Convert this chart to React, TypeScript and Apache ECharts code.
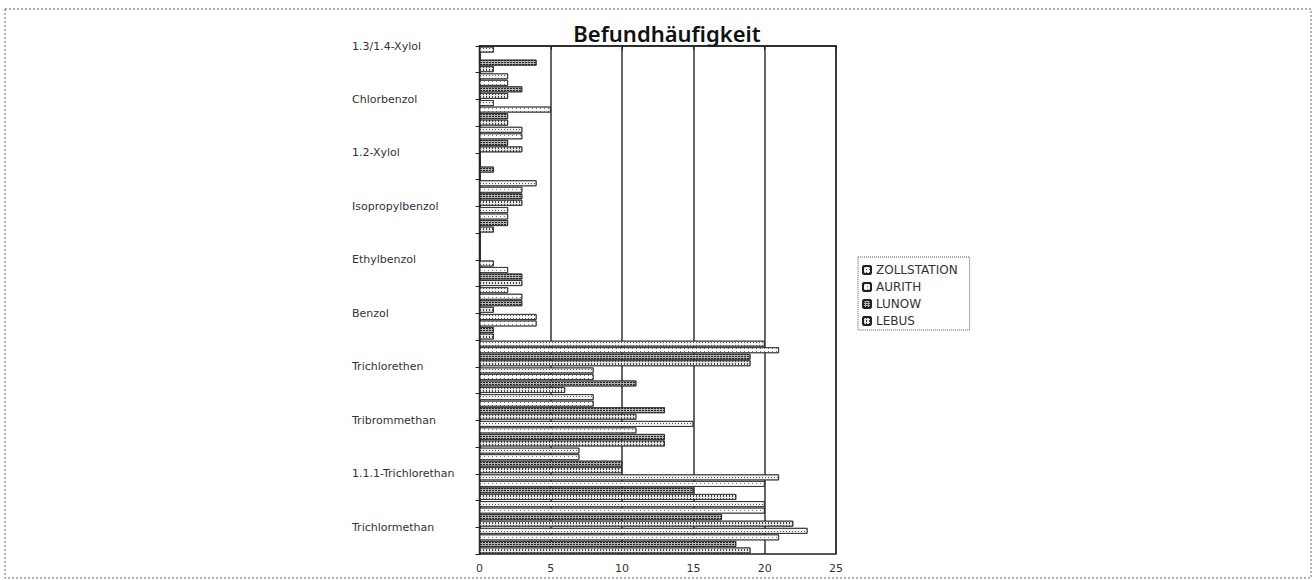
import React, { useEffect, useRef } from 'react';
import * as echarts from 'echarts';

// Substance names (shown at every second row boundary)
const substances = [
  '1.3/1.4-Xylol',
  'Chlorbenzol',
  '1.2-Xylol',
  'Isopropylbenzol',
  'Ethylbenzol',
  'Benzol',
  'Trichlorethen',
  'Tribrommethan',
  '1.1.1-Trichlorethan',
  'Trichlormethan',
];

// 19 bar rows, top to bottom
const rowIds = [
  'r01', 'r02', 'r03', 'r04', 'r05', 'r06', 'r07', 'r08', 'r09', 'r10',
  'r11', 'r12', 'r13', 'r14', 'r15', 'r16', 'r17', 'r18', 'r19',
];

const stations = ['ZOLLSTATION', 'AURITH', 'LUNOW', 'LEBUS'];

const zollstation = [1, 2, 1, 3, 0, 4, 2, 0, 1, 2, 4, 20, 8, 8, 15, 7, 21, 20, 23];
const aurith = [0, 2, 5, 3, 0, 3, 2, 0, 2, 3, 4, 21, 8, 8, 11, 7, 20, 20, 21];
const lunow = [4, 3, 2, 2, 1, 3, 2, 0, 3, 3, 1, 19, 11, 13, 13, 10, 15, 17, 18];
const lebus = [1, 2, 2, 3, 0, 3, 1, 0, 3, 1, 1, 19, 6, 11, 13, 10, 18, 22, 19];

const xMin = 0;
const xMax = 25;
const xInterval = 5;

const FONT = 'DejaVu Sans';

export default function App() {
  const ref = useRef<HTMLDivElement>(null);

  useEffect(() => {
    if (!ref.current) return;
    const chart = echarts.init(ref.current, null, { renderer: 'svg' });

    const seriesData = [zollstation, aurith, lunow, lebus];
    const styles = [
      { color: '#f2f2f2', decal: { symbol: 'rect', symbolSize: 1, dashArrayX: [1, 2], dashArrayY: [1, 2], color: '#555' } },
      { color: '#fafafa', decal: { symbol: 'rect', symbolSize: 1, dashArrayX: [1, 3], dashArrayY: [1, 2], color: '#777' } },
      { color: '#b5b5b5', decal: { symbol: 'rect', symbolSize: 1, dashArrayX: [2, 1], dashArrayY: [1, 1], color: '#222' } },
      { color: '#e6e6e6', decal: { symbol: 'rect', symbolSize: 1, dashArrayX: [1, 2], dashArrayY: [2, 1], color: '#444' } },
    ];

    const option: any = {
      animation: false,
      backgroundColor: '#ffffff',
      textStyle: { fontFamily: FONT },
      graphic: [
        {
          type: 'rect',
          z: -10,
          shape: { x: 5, y: 9, width: 1306, height: 569 },
          style: { fill: 'none', stroke: '#666', lineWidth: 1, lineDash: [2, 2] },
        },
        {
          type: 'text',
          x: 667,
          y: 33,
          style: {
            text: 'Befundhäufigkeit',
            fontFamily: 'Noto Sans',
            fontSize: 22,
            fontWeight: 600,
            fill: '#111',
            align: 'center',
            verticalAlign: 'middle',
          },
        },
      ],
      legend: {
        orient: 'vertical',
        left: 858,
        top: 257,
        data: stations,
        padding: [7, 12, 3, 4],
        itemGap: 5,
        itemWidth: 8,
        itemHeight: 8,
        borderColor: '#555',
        borderWidth: 1,
        borderType: 'dotted',
        textStyle: { fontFamily: FONT, fontSize: 12, color: '#333' },
      },
      grid: {
        left: 479.5,
        top: 46,
        width: 356.5,
        height: 508,
        show: true,
        borderColor: '#222',
        borderWidth: 1.5,
        backgroundColor: 'transparent',
      },
      xAxis: {
        type: 'value',
        min: xMin,
        max: xMax,
        interval: xInterval,
        axisLine: { show: true, lineStyle: { color: '#222', width: 1.5 } },
        axisTick: { show: true, length: 4, lineStyle: { color: '#222' } },
        axisLabel: { fontFamily: FONT, fontSize: 11, color: '#333', margin: 9 },
        splitLine: { show: true, lineStyle: { color: '#333', width: 1.5 } },
      },
      yAxis: [
        {
          type: 'category',
          data: rowIds,
          inverse: true,
          axisLine: { show: true, lineStyle: { color: '#222', width: 1.5 } },
          axisTick: { show: true, length: 4, interval: 0, lineStyle: { color: '#222' } },
          axisLabel: { show: false },
          splitLine: { show: false },
        },
        {
          type: 'value',
          position: 'left',
          min: 0,
          max: rowIds.length,
          interval: 1,
          inverse: true,
          axisLine: { show: false },
          axisTick: { show: false },
          splitLine: { show: false },
          axisLabel: {
            align: 'left',
            margin: 127.5,
            fontFamily: FONT,
            fontSize: 11,
            color: '#333',
            formatter: (v: number) => (v % 2 === 0 && substances[v / 2] ? substances[v / 2] : ''),
          },
        },
      ],
      series: stations.map((name, i) => ({
        name,
        type: 'bar',
        yAxisIndex: 0,
        data: seriesData[i],
        barGap: '12%',
        barCategoryGap: '5%',
        itemStyle: {
          color: styles[i].color,
          borderColor: '#222',
          borderWidth: 0.7,
          decal: styles[i].decal,
        },
      })),
    };

    chart.setOption(option);
    return () => chart.dispose();
  }, []);

  return (
    <div
      ref={ref}
      style={{ position: 'fixed', left: 0, top: 0, width: 1316, height: 580, background: '#fff' }}
    />
  );
}
